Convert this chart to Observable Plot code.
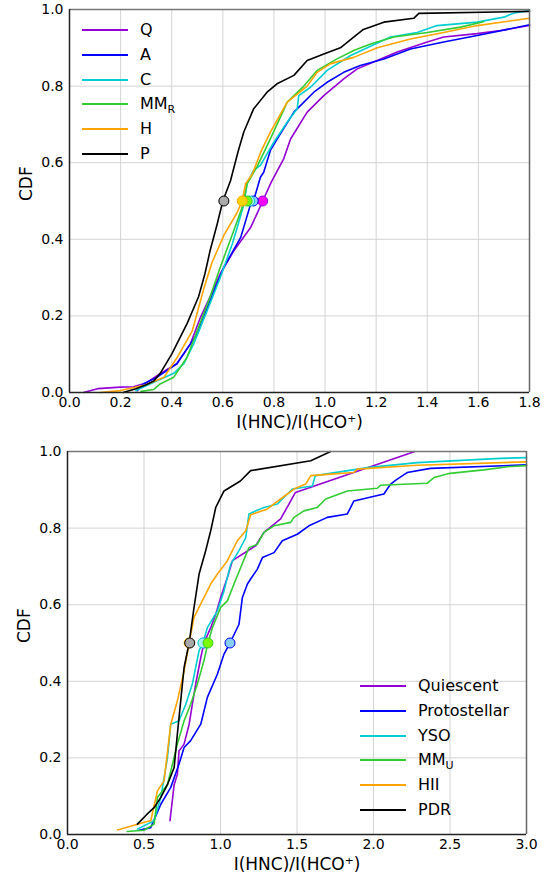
<!DOCTYPE html>
<html><head><meta charset="utf-8">
<script src="https://cdn.jsdelivr.net/npm/d3@7"></script>
<script src="https://cdn.jsdelivr.net/npm/@observablehq/plot@0.6"></script>
<style>
body{margin:0;background:#fff;font-family:"DejaVu Sans",sans-serif;}
#wrap{position:relative;width:557px;height:883px;overflow:hidden;}
.panel{position:absolute;left:0;}
.lrow{position:absolute;height:20px;display:flex;align-items:center;white-space:nowrap;font-size:16px;color:#000;}
.lrow span{margin-left:12px;line-height:20px;}
.lrow sub{font-size:11px;vertical-align:-4px;line-height:0;}
</style></head><body><div id="wrap"></div>
<script>
// ---------- shared ----------
const lineColors = ["darkviolet", "blue", "darkturquoise", "limegreen", "orange", "black"];
const markerColors = ["magenta", "lightskyblue", "paleturquoise", "lawngreen", "gold", "darkgray"];
const yTicks = [0, 0.2, 0.4, 0.6, 0.8, 1.0];
const medianLevel = 0.5;

// ---------- top panel ----------
const topLabels = ["Q", "A", "C", "MM<sub>R</sub>", "H", "P"];
const topXTicks = [0, 0.2, 0.4, 0.6, 0.8, 1.0, 1.2, 1.4, 1.6, 1.8];
const topQ = [[0.055,0],[0.11,0.01],[0.20,0.014],[0.25,0.015],[0.30,0.025],[0.356,0.05],[0.42,0.075],[0.473,0.127],[0.513,0.197],[0.55,0.25],[0.59,0.31],[0.643,0.37],[0.708,0.43],[0.734,0.467],[0.756,0.50],[0.79,0.55],[0.838,0.61],[0.865,0.662],[0.93,0.732],[0.995,0.775],[1.073,0.819],[1.126,0.845],[1.204,0.867],[1.282,0.889],[1.40,0.915],[1.464,0.928],[1.595,0.937],[1.686,0.945],[1.80,0.958]];
const topA = [[0.265,0.005],[0.29,0.023],[0.343,0.04],[0.42,0.075],[0.50,0.153],[0.55,0.24],[0.604,0.327],[0.67,0.405],[0.708,0.49],[0.72,0.5],[0.747,0.562],[0.76,0.575],[0.786,0.632],[0.813,0.662],[0.878,0.732],[0.956,0.784],[1.008,0.81],[1.073,0.836],[1.138,0.854],[1.23,0.871],[1.334,0.897],[1.464,0.915],[1.595,0.932],[1.80,0.96]];
const topC = [[0.26,0.005],[0.317,0.023],[0.408,0.05],[0.447,0.075],[0.486,0.127],[0.539,0.214],[0.59,0.30],[0.637,0.388],[0.656,0.43],[0.682,0.49],[0.695,0.545],[0.72,0.58],[0.747,0.593],[0.80,0.654],[0.852,0.706],[0.891,0.741],[0.897,0.775],[0.943,0.797],[0.995,0.832],[1.008,0.841],[1.10,0.88],[1.165,0.90],[1.256,0.928],[1.36,0.94],[1.438,0.958],[1.595,0.967],[1.70,0.98],[1.74,0.991],[1.80,0.997]];
const topMM = [[0.28,0.003],[0.33,0.008],[0.356,0.023],[0.408,0.04],[0.46,0.092],[0.50,0.162],[0.55,0.249],[0.59,0.327],[0.643,0.423],[0.676,0.484],[0.695,0.545],[0.734,0.59],[0.786,0.662],[0.852,0.758],[0.917,0.80],[0.969,0.841],[1.047,0.871],[1.112,0.893],[1.178,0.91],[1.269,0.928],[1.40,0.94],[1.53,0.954],[1.62,0.968]];
const topH = [[0.12,0],[0.20,0.005],[0.30,0.02],[0.37,0.04],[0.42,0.09],[0.48,0.16],[0.525,0.27],[0.558,0.34],[0.604,0.41],[0.656,0.47],[0.676,0.5],[0.689,0.545],[0.715,0.57],[0.75,0.63],[0.786,0.68],[0.852,0.758],[0.93,0.80],[0.969,0.836],[1.02,0.858],[1.112,0.875],[1.204,0.90],[1.334,0.923],[1.464,0.94],[1.595,0.958],[1.80,0.977]];
const topP = [[0.21,0],[0.26,0.01],[0.30,0.02],[0.33,0.03],[0.355,0.05],[0.40,0.10],[0.43,0.14],[0.46,0.18],[0.505,0.25],[0.53,0.31],[0.55,0.37],[0.578,0.44],[0.60,0.50],[0.63,0.553],[0.66,0.63],[0.682,0.68],[0.72,0.74],[0.773,0.784],[0.812,0.806],[0.878,0.828],[0.93,0.867],[0.995,0.884],[1.06,0.90],[1.112,0.928],[1.15,0.948],[1.23,0.967],[1.347,0.977],[1.367,0.99],[1.80,0.995]];
const topMedians = [0.756, 0.719, 0.705, 0.695, 0.676, 0.604];

// ---------- bottom panel ----------
const botLabels = ["Quiescent", "Protostellar", "YSO", "MM<sub>U</sub>", "HII", "PDR"];
const botXTicks = [0, 0.5, 1.0, 1.5, 2.0, 2.5, 3.0];
const botQ = [[0.67,0.036],[0.697,0.13],[0.718,0.157],[0.729,0.218],[0.762,0.236],[0.795,0.288],[0.816,0.34],[0.838,0.393],[0.871,0.462],[0.892,0.5],[0.936,0.54],[0.969,0.575],[1.001,0.619],[1.045,0.671],[1.078,0.715],[1.23,0.754],[1.284,0.789],[1.393,0.824],[1.49,0.893],[2.27,1.0]];
const botA = [[0.468,0.011],[0.544,0.018],[0.61,0.079],[0.675,0.123],[0.729,0.184],[0.762,0.227],[0.805,0.245],[0.871,0.288],[0.914,0.358],[0.98,0.419],[1.023,0.471],[1.062,0.5],[1.121,0.549],[1.143,0.619],[1.176,0.654],[1.197,0.667],[1.241,0.693],[1.274,0.723],[1.35,0.736],[1.404,0.767],[1.502,0.784],[1.578,0.806],[1.698,0.828],[1.829,0.837],[1.872,0.871],[2.068,0.889],[2.112,0.915],[2.155,0.928],[2.22,0.945],[2.373,0.956],[3.0,0.965]];
const botC = [[0.457,0.014],[0.566,0.036],[0.61,0.097],[0.653,0.20],[0.675,0.288],[0.729,0.297],[0.773,0.34],[0.816,0.393],[0.86,0.48],[0.885,0.5],[0.914,0.54],[0.98,0.584],[1.023,0.636],[1.067,0.706],[1.121,0.741],[1.165,0.775],[1.186,0.837],[1.284,0.854],[1.372,0.863],[1.47,0.902],[1.60,0.91],[1.62,0.937],[1.96,0.958],[2.286,0.971],[2.83,0.982],[3.0,0.984]];
const botMM = [[0.39,0.008],[0.50,0.011],[0.566,0.027],[0.588,0.097],[0.653,0.13],[0.718,0.236],[0.762,0.297],[0.805,0.34],[0.849,0.393],[0.892,0.454],[0.918,0.5],[0.947,0.54],[1.001,0.593],[1.045,0.61],[1.088,0.654],[1.132,0.697],[1.186,0.749],[1.241,0.758],[1.284,0.789],[1.35,0.806],[1.459,0.815],[1.48,0.828],[1.545,0.845],[1.633,0.854],[1.687,0.876],[1.741,0.884],[1.829,0.897],[2.025,0.904],[2.047,0.912],[2.35,0.917],[2.395,0.932],[2.50,0.943],[2.72,0.952],[2.896,0.961],[3.0,0.963]];
const botH = [[0.327,0.012],[0.52,0.034],[0.544,0.036],[0.588,0.114],[0.631,0.14],[0.675,0.288],[0.718,0.349],[0.762,0.427],[0.795,0.5],[0.827,0.567],[0.871,0.602],[0.936,0.654],[0.98,0.68],[1.045,0.715],[1.11,0.767],[1.165,0.793],[1.197,0.835],[1.306,0.85],[1.393,0.876],[1.48,0.902],[1.557,0.915],[1.59,0.937],[1.72,0.941],[1.872,0.945],[1.894,0.954],[2.286,0.964],[3.0,0.973]];
const botP = [[0.457,0.027],[0.52,0.053],[0.566,0.07],[0.61,0.097],[0.653,0.13],[0.697,0.175],[0.718,0.262],[0.74,0.349],[0.762,0.436],[0.795,0.5],[0.827,0.593],[0.86,0.68],[0.903,0.741],[0.936,0.793],[0.969,0.854],[1.023,0.897],[1.13,0.923],[1.197,0.95],[1.59,0.976],[1.72,1.0]];
const botMedians = [0.892, 1.062, 0.885, 0.918, 0.795, 0.799];

const xLabel = "I(HNC)/I(HCO\u207A)";
const yLabel = "CDF";

function panel(cfg) {
  const marks = [
    Plot.gridX(cfg.xTicks, {stroke: "#d4d4d4", strokeOpacity: 1, strokeWidth: 1}),
    Plot.gridY(yTicks, {stroke: "#d4d4d4", strokeOpacity: 1, strokeWidth: 1}),
  ];
  cfg.series.forEach((s, i) => {
    marks.push(Plot.line(s, {x: d => d[0], y: d => d[1], stroke: lineColors[i], strokeWidth: 1.6}));
  });
  cfg.medians.forEach((m, i) => {
    marks.push(Plot.dot([m], {x: d => d, y: () => medianLevel, r: 5, fill: markerColors[i], stroke: lineColors[i], strokeWidth: 1}));
  });
  marks.push(
    Plot.ruleY([cfg.yDomain[1]], {stroke: "#777", strokeWidth: 1.5}),
    Plot.ruleX([cfg.xDomain[1]], {stroke: "#666", strokeWidth: 1.5}),
    Plot.ruleX([cfg.xDomain[0]], {stroke: "#222", strokeWidth: 1.5}),
    Plot.ruleY([cfg.yDomain[0]], {stroke: "#222", strokeWidth: 1.5}),
    Plot.axisX(cfg.xTicks, {tickSize: 0, tickPadding: 5, tickFormat: d3.format(".1f"), fontSize: 14, label: null}),
    Plot.axisY(yTicks, {tickSize: 0, tickPadding: 6, tickFormat: d3.format(".1f"), fontSize: 14, label: null}),
    Plot.text([yLabel], {frameAnchor: "left", dx: -43, rotate: -90, fontSize: 17, fill: "black"}),
    Plot.text([xLabel], {frameAnchor: "bottom", dy: 35, fontSize: 17, fill: "black"})
  );
  return Plot.plot({
    width: 557, height: cfg.height,
    marginLeft: cfg.ml, marginRight: cfg.mr, marginTop: cfg.mt, marginBottom: cfg.mb,
    x: {domain: cfg.xDomain},
    y: {domain: cfg.yDomain},
    style: {fontFamily: "DejaVu Sans, sans-serif", fontSize: "14px", color: "black", background: "white", overflow: "visible"},
    marks
  });
}

function legend(parent, left, top, labels) {
  labels.forEach((lab, i) => {
    const row = document.createElement("div");
    row.className = "lrow";
    row.style.left = left + "px";
    row.style.top = (top + i * 24.8 - 10) + "px";
    row.innerHTML = `<svg width="46" height="20"><line x1="0" x2="46" y1="10" y2="10" stroke="${lineColors[i]}" stroke-width="2"/></svg><span>${lab}</span>`;
    parent.appendChild(row);
  });
}

const wrap = document.getElementById("wrap");
const p1 = panel({height: 440, ml: 69, mr: 28, mt: 9, mb: 48, xDomain: [0, 1.8], yDomain: [0, 1], xTicks: topXTicks,
  series: [topQ, topA, topC, topMM, topH, topP], medians: topMedians});
p1.classList.add("panel"); p1.style.top = "0px";
wrap.appendChild(p1);
const p2 = panel({height: 443, ml: 67, mr: 31, mt: 11, mb: 49, xDomain: [0, 3], yDomain: [0, 1], xTicks: botXTicks,
  series: [botQ, botA, botC, botMM, botH, botP], medians: botMedians});
p2.classList.add("panel"); p2.style.top = "440px";
wrap.appendChild(p2);
legend(wrap, 82, 30, topLabels);
legend(wrap, 360, 686, botLabels);
</script></body></html>
